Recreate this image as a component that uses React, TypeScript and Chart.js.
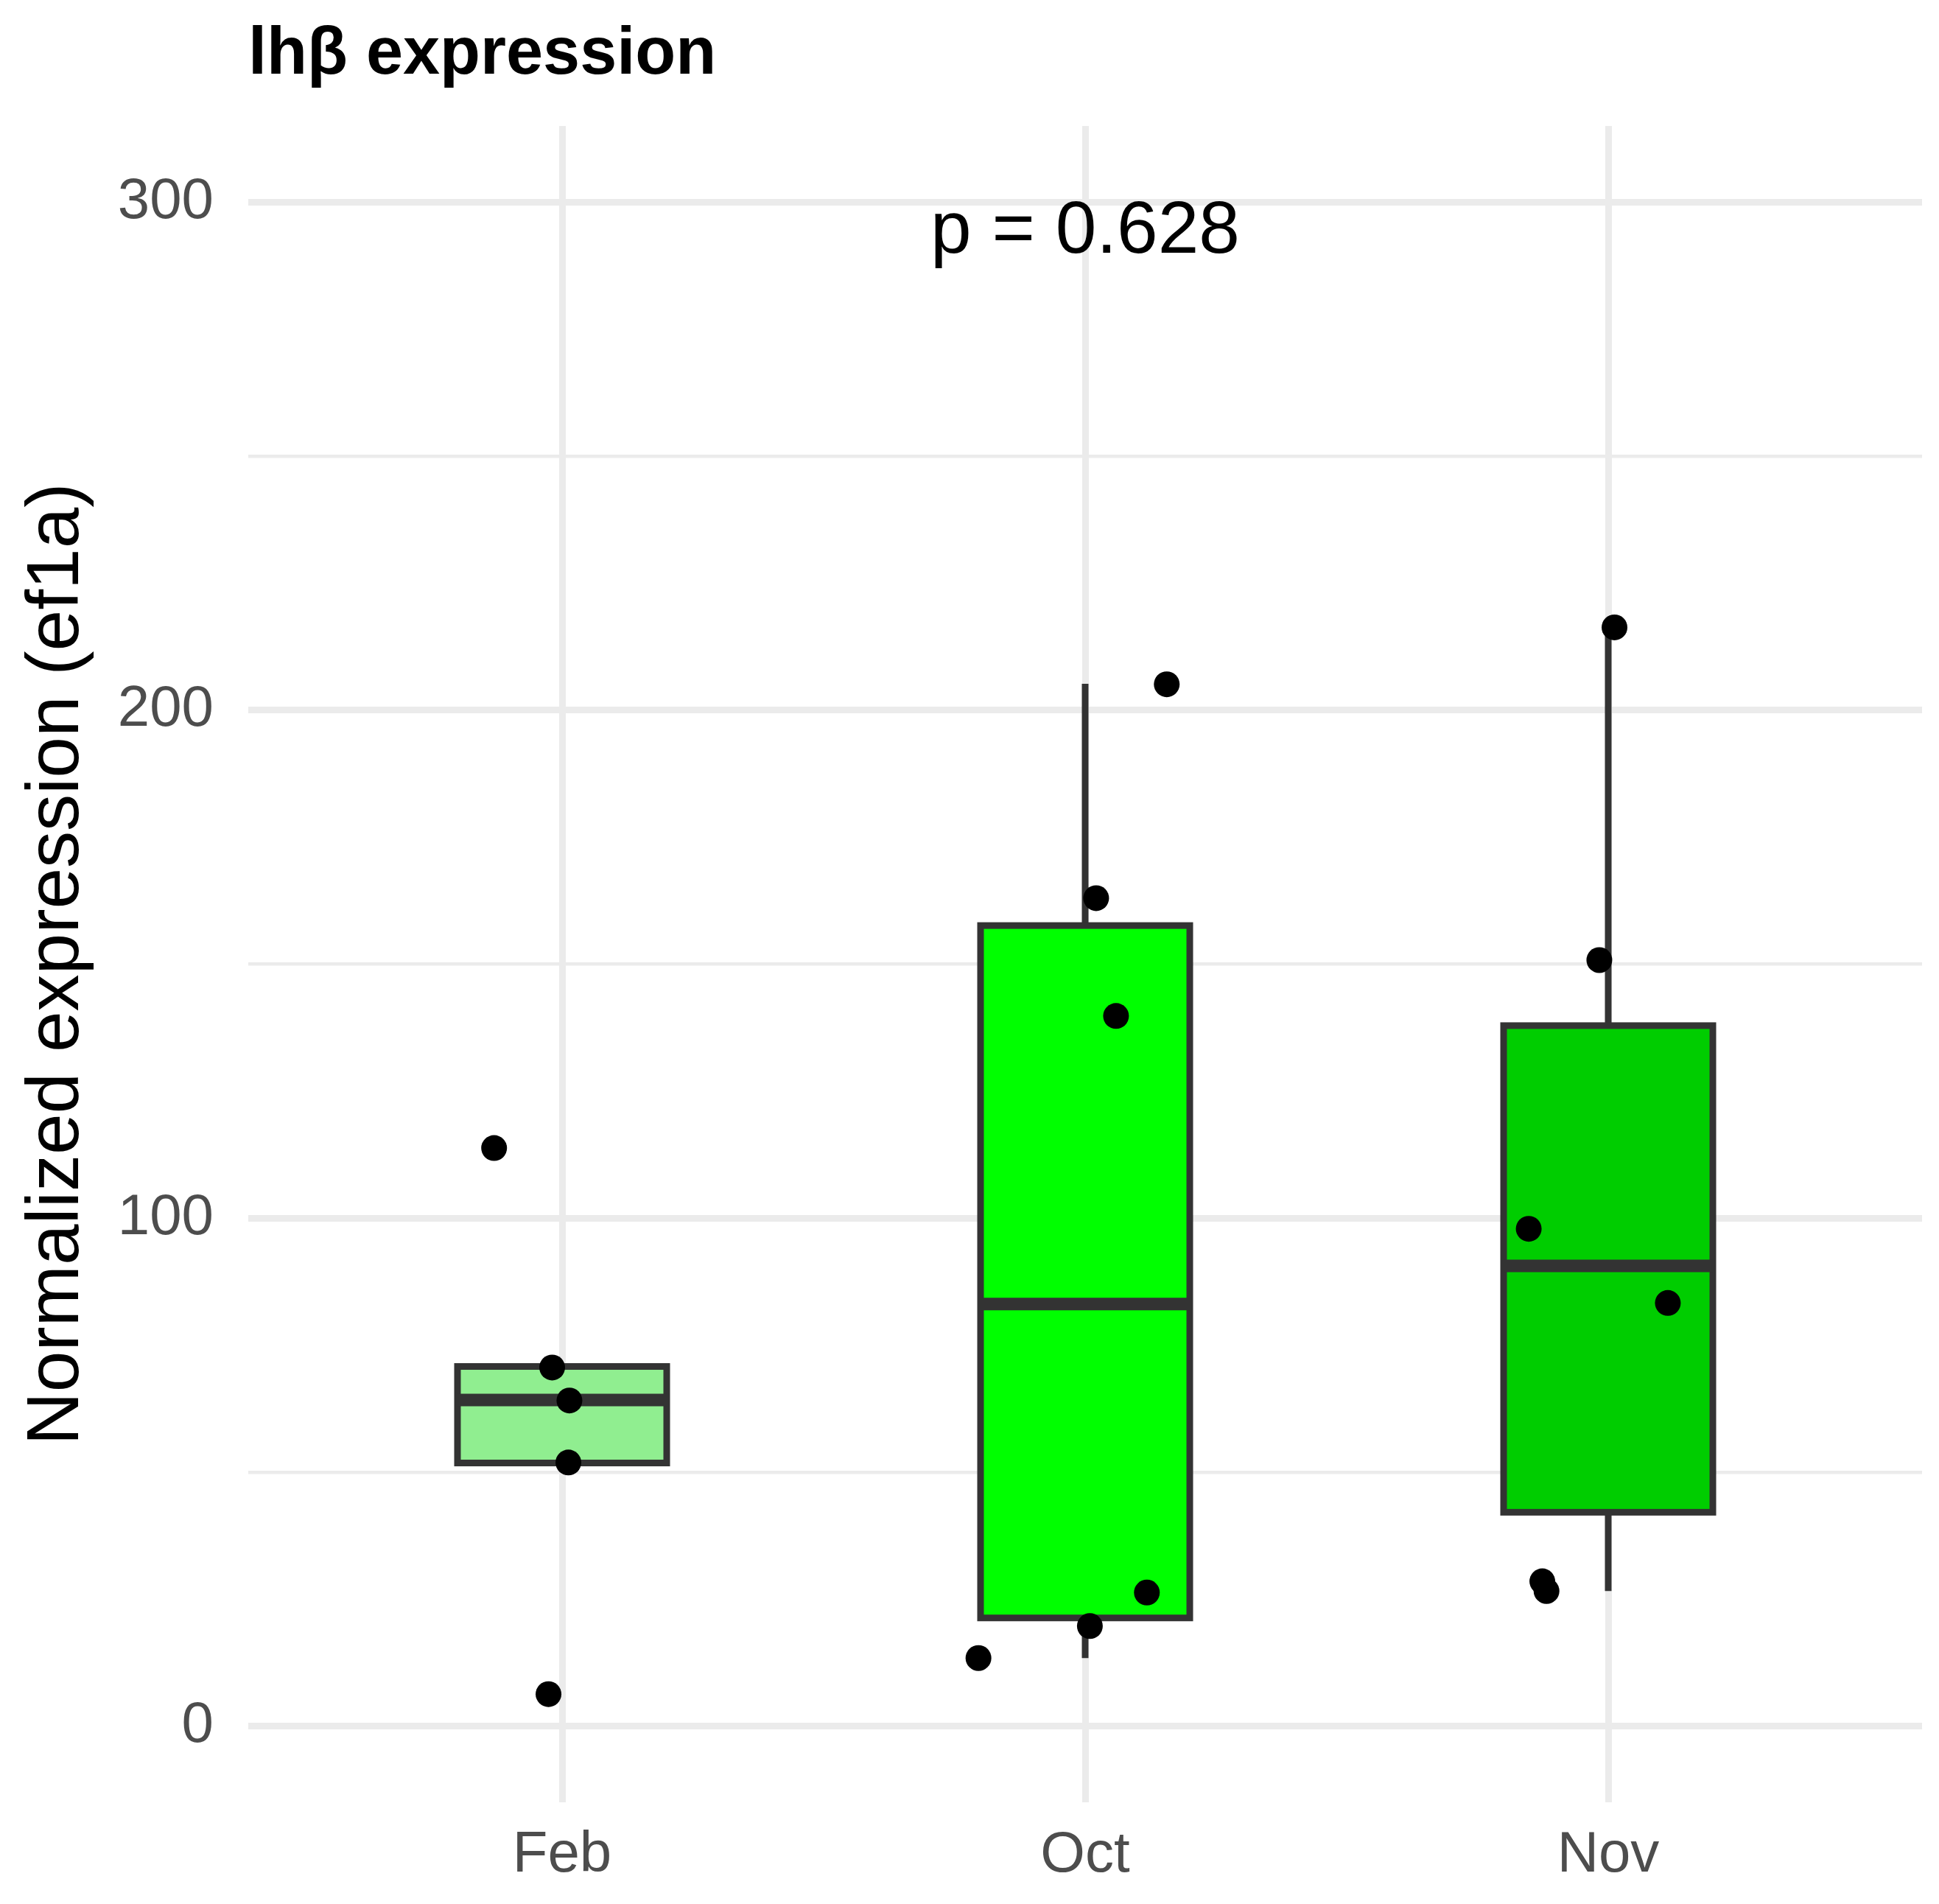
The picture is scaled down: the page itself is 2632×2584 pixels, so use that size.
import React, { useEffect, useRef } from 'react';
import { Chart, registerables } from 'chart.js';

Chart.register(...registerables);

// ---- data ----
const categories = ['Feb', 'Oct', 'Nov'];
const boxFill = ['#90EE90', '#00FF00', '#00CD00'];
const whiskerLow = [51.8, 13.4, 26.6];
const q1 = [51.8, 21.3, 42.1];
const medians = [64.2, 83.1, 90.6];
const q3 = [70.8, 157.6, 137.9];
const whiskerHigh = [70.8, 205.2, 216.3];

const febValues = [113.8, 70.6, 64.1, 51.9, 6.3];
const febJitter = [-0.13, -0.019, 0.014, 0.012, -0.026];
const octValues = [205.1, 163.0, 139.8, 26.3, 19.7, 13.4];
const octJitter = [0.156, 0.021, 0.059, 0.118, 0.009, -0.204];
const novValues = [216.3, 150.8, 97.9, 83.3, 28.5, 26.6];
const novJitter = [0.012, -0.017, -0.152, 0.114, -0.126, -0.118];

const yTicks = [0, 50, 100, 150, 200, 250, 300];
const yLabelled = [0, 100, 200, 300];

const titleText = 'lhβ expression';
const yTitle = 'Normalized expression (ef1a)';
const pLabel = 'p = 0.628';
const pLabelX = 2;
const pLabelY = 294;

const FONT = '"Liberation Sans", Arial, Helvetica, sans-serif';
const BOX_HALF = 0.2;
const GRID = '#EBEBEB';
const LINE = '#333333';

const toPoints = (vals: number[], jit: number[], idx: number) =>
  vals.map((v, i) => ({ x: idx + 1 + jit[i], y: v }));

const boxPlugin = {
  id: 'boxes',
  beforeDatasetsDraw(chart: any) {
    const { ctx, scales } = chart;
    const x = scales.x;
    const y = scales.y;
    ctx.save();
    for (let i = 0; i < categories.length; i++) {
      const c = i + 1;
      const xl = x.getPixelForValue(c - BOX_HALF);
      const xr = x.getPixelForValue(c + BOX_HALF);
      const xc = x.getPixelForValue(c);
      const yTop = y.getPixelForValue(q3[i]);
      const yBot = y.getPixelForValue(q1[i]);
      const yMed = y.getPixelForValue(medians[i]);
      ctx.strokeStyle = LINE;
      ctx.lineCap = 'butt';
      ctx.lineJoin = 'miter';
      ctx.lineWidth = 9;
      // whiskers
      ctx.beginPath();
      ctx.moveTo(xc, yTop);
      ctx.lineTo(xc, y.getPixelForValue(whiskerHigh[i]));
      ctx.moveTo(xc, yBot);
      ctx.lineTo(xc, y.getPixelForValue(whiskerLow[i]));
      ctx.stroke();
      // box
      ctx.fillStyle = boxFill[i];
      ctx.fillRect(xl, yTop, xr - xl, yBot - yTop);
      ctx.strokeRect(xl, yTop, xr - xl, yBot - yTop);
      // median
      ctx.lineWidth = 17;
      ctx.beginPath();
      ctx.moveTo(xl, yMed);
      ctx.lineTo(xr, yMed);
      ctx.stroke();
    }
    ctx.restore();
  },
  afterDraw(chart: any) {
    const { ctx, scales, chartArea } = chart;
    ctx.save();
    ctx.fillStyle = '#000000';
    ctx.font = `bold 90px ${FONT}`;
    ctx.textAlign = 'left';
    ctx.textBaseline = 'alphabetic';
    ctx.fillText(titleText, chartArea.left, 100);
    ctx.font = `100px ${FONT}`;
    ctx.textAlign = 'center';
    ctx.textBaseline = 'middle';
    ctx.fillText(pLabel, scales.x.getPixelForValue(pLabelX), scales.y.getPixelForValue(pLabelY));
    ctx.restore();
  },
};

export default function App() {
  const ref = useRef<HTMLCanvasElement | null>(null);
  useEffect(() => {
    if (!ref.current) return;
    Chart.defaults.font.family = FONT;
    const chart = new Chart(ref.current, {
      type: 'scatter',
      data: {
        datasets: [
          { label: categories[0], data: toPoints(febValues, febJitter, 0) },
          { label: categories[1], data: toPoints(octValues, octJitter, 1) },
          { label: categories[2], data: toPoints(novValues, novJitter, 2) },
        ].map((d) => ({
          ...d,
          backgroundColor: '#000000',
          borderWidth: 0,
          pointRadius: 17.5,
          pointHoverRadius: 17.5,
        })),
      },
      options: {
        animation: false,
        responsive: false,
        devicePixelRatio: 1,
        layout: { padding: { left: 0, right: 23, top: 171, bottom: 0 } },
        plugins: { legend: { display: false }, tooltip: { enabled: false }, title: { display: false } },
        scales: {
          x: {
            type: 'linear',
            min: 0.4,
            max: 3.6,
            afterBuildTicks: (s: any) => {
              s.ticks = categories.map((_, i) => ({ value: i + 1 }));
            },
            afterFit: (s: any) => {
              s.height = 138;
            },
            grid: { color: GRID, lineWidth: 9, drawTicks: false },
            border: { display: false },
            ticks: {
              callback: (v: any) => categories[Math.round(Number(v)) - 1] ?? '',
              color: '#4D4D4D',
              font: { size: 78 },
              padding: 26,
              autoSkip: false,
              maxRotation: 0,
              minRotation: 0,
            },
          },
          y: {
            type: 'linear',
            min: -15,
            max: 315,
            afterBuildTicks: (s: any) => {
              s.ticks = yTicks.map((v) => ({ value: v }));
            },
            afterFit: (s: any) => {
              s.width = 337;
            },
            grid: {
              color: GRID,
              lineWidth: (c: any) => (yLabelled.includes(c.tick?.value) ? 9 : 4.5),
              drawTicks: false,
            },
            border: { display: false },
            ticks: {
              callback: (v: any) => (yLabelled.includes(Number(v)) ? String(v) : ''),
              color: '#4D4D4D',
              font: { size: 78 },
              padding: 47,
              autoSkip: false,
            },
            title: {
              display: true,
              text: yTitle,
              color: '#000000',
              font: { size: 100 },
              padding: { top: 18, bottom: 0 },
            },
          },
        },
      },
      plugins: [boxPlugin],
    });
    return () => chart.destroy();
  }, []);
  return (
    <div style={{ position: 'absolute', left: 0, top: 0, width: 2632, height: 2584, background: '#FFFFFF' }}>
      <canvas ref={ref} width={2632} height={2584} style={{ display: 'block' }} />
    </div>
  );
}
